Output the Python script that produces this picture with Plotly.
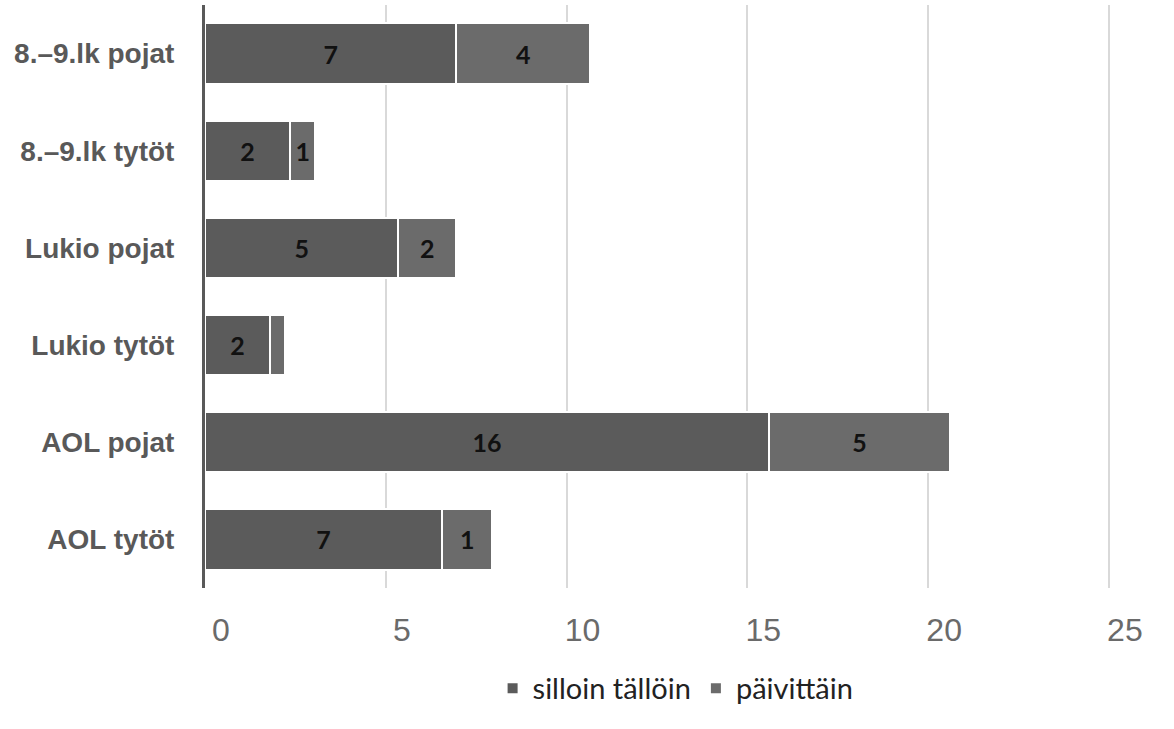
import plotly.graph_objects as go

categories = ["8.–9.lk pojat", "8.–9.lk tytöt", "Lukio pojat", "Lukio tytöt", "AOL pojat", "AOL tytöt"]
silloin_tallloin = [6.95, 2.35, 5.35, 1.8, 15.6, 6.55]
paivittain = [3.7, 0.7, 1.6, 0.4, 5.0, 1.4]
series_names = ["silloin tällöin", "päivittäin"]
x_ticks = [0, 5, 10, 15, 20, 25]


def labels(vals):
    return [str(int(round(v))) if v >= 0.5 else "" for v in vals]


fig = go.Figure()
for name, vals, color in [(series_names[0], silloin_tallloin, "#5b5b5b"),
                          (series_names[1], paivittain, "#6b6b6b")]:
    fig.add_trace(go.Bar(
        y=categories, x=vals, name=name, orientation="h",
        marker=dict(color=color, line=dict(color="white", width=2)),
        text=labels(vals), textposition="inside", insidetextanchor="middle",
        constraintext="none",
        textfont=dict(family="Lato, Open Sans, sans-serif", size=25, color="#111111", weight="bold"),
    ))

fig.update_layout(
    barmode="stack", bargap=0.38,
    width=1174, height=729,
    margin=dict(l=205, r=64, t=5, b=141),
    plot_bgcolor="white", paper_bgcolor="white",
    showlegend=True,
    legend=dict(orientation="h", x=0.52, xanchor="center", y=-0.172, yanchor="middle",
                font=dict(family="Lato, Open Sans, sans-serif", size=29, color="#222222"),
                traceorder="normal", itemwidth=30),
    xaxis=dict(range=[0, 25.03], tickvals=x_ticks, showgrid=True, gridcolor="#d9d9d9", gridwidth=2,
               zeroline=False, showline=False, ticks="",
               tickfont=dict(family="Liberation Sans, Arial, sans-serif", size=32, color="#6a6a6a"),
               ticklabelstandoff=20, ticklabelshift=16),
    yaxis=dict(autorange="reversed", showline=True, linecolor="#595959", linewidth=3,
               showgrid=False, ticks="", ticklabelstandoff=22,
               tickfont=dict(family="Liberation Sans, Arial, sans-serif", size=28, color="#595959", weight="bold")),
)

fig.write_html("out.html")
